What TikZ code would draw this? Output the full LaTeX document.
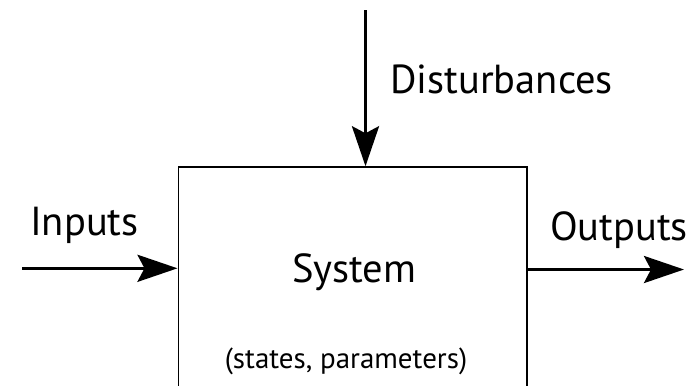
\documentclass[tikz,border=0pt]{standalone}
\usepackage{fontspec}
\setmainfont{PT Sans}
\usetikzlibrary{arrows.meta}
\begin{document}
\begin{tikzpicture}[x=1bp,y=-1bp,
  bigtext/.style={inner sep=0pt,anchor=base west,font=\fontsize{40.5bp}{48bp}\selectfont},
  smalltext/.style={inner sep=0pt,anchor=base,font=\fontsize{29bp}{34bp}\selectfont},
  sysbox/.style={draw,line width=1.5bp,rectangle,minimum width=348.5bp,minimum height=260bp,inner sep=0pt},
  arr/.style={line width=3.3bp,-{Stealth[length=40bp,width=27bp,inset=7bp]}}]
\useasboundingbox (0,0) rectangle (697,385);
\clip (0,0) rectangle (697,385);
\node[sysbox] (sys) at (352.5,297) {};
\coordinate (in0) at (22,268.3);
\coordinate (out1) at (684,269.5);
\coordinate (d0) at (365.5,10);
\draw[arr] (in0) -- (sys.west |- in0);
\draw[arr] (sys.east |- out1) -- (out1);
\draw[arr] (d0) -- (d0 |- sys.north);
\node[bigtext] (dist) at (390,93) {Disturbances};
\node[bigtext] (inp) at (30,235) {Inputs};
\node[bigtext] (outp) at (550,240) {Outputs};
\node[bigtext] (systxt) at (292,282) {System};
\node[smalltext] (st) at (346,368) {(states, parameters)};
\end{tikzpicture}
\end{document}
